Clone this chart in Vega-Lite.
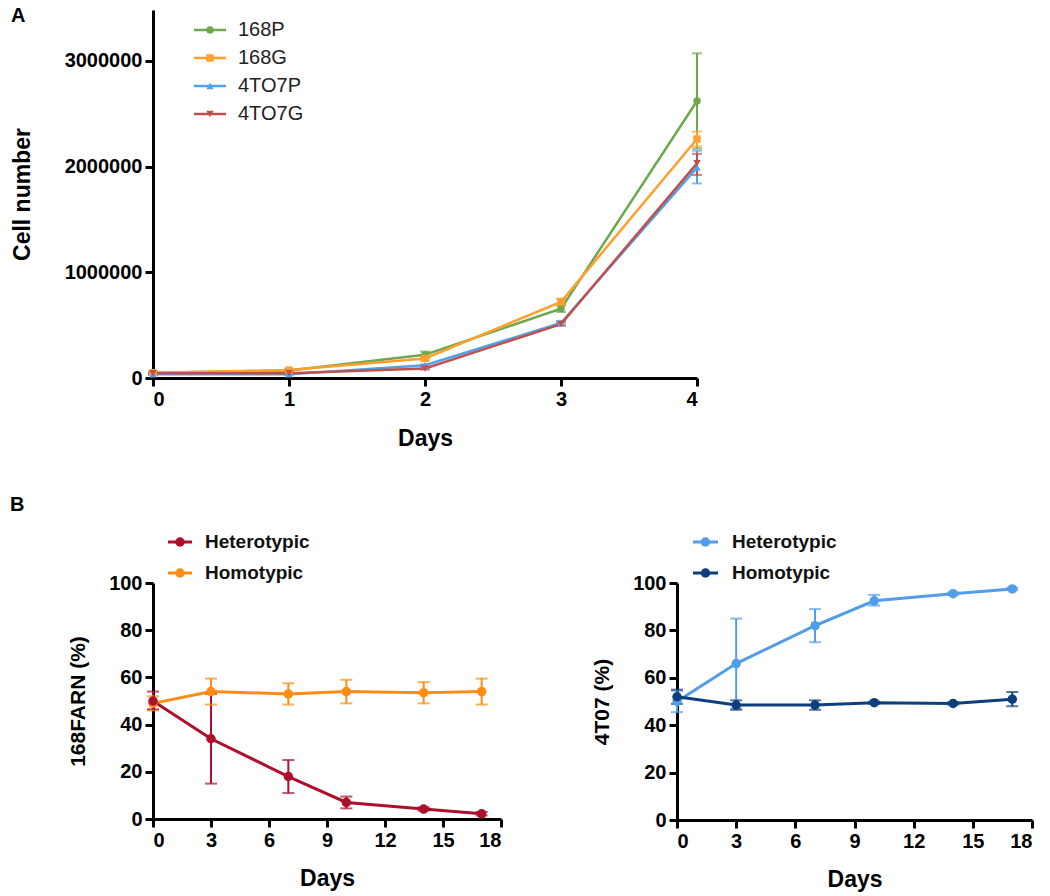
{
  "$schema": "https://vega.github.io/schema/vega-lite/v6.json",
  "background": "white",
  "padding": {"left": 10, "top": 6, "right": 5, "bottom": 5},
  "bounds": "flush",
  "spacing": 205,
  "datasets": {
    "growth": [
      {"series": "168P", "day": 0, "mean": 50000, "lo": 40000, "hi": 60000},
      {"series": "168P", "day": 1, "mean": 70000, "lo": 60000, "hi": 80000},
      {"series": "168P", "day": 2, "mean": 220000, "lo": 190000, "hi": 250000},
      {"series": "168P", "day": 3, "mean": 655000, "lo": 625000, "hi": 685000},
      {"series": "168P", "day": 4, "mean": 2620000, "lo": 2170000, "hi": 3070000},
      {"series": "168G", "day": 0, "mean": 50000, "lo": 40000, "hi": 60000},
      {"series": "168G", "day": 1, "mean": 75000, "lo": 65000, "hi": 85000},
      {"series": "168G", "day": 2, "mean": 185000, "lo": 165000, "hi": 205000},
      {"series": "168G", "day": 3, "mean": 720000, "lo": 690000, "hi": 750000},
      {"series": "168G", "day": 4, "mean": 2260000, "lo": 2190000, "hi": 2330000},
      {"series": "4TO7P", "day": 0, "mean": 35000, "lo": 30000, "hi": 40000},
      {"series": "4TO7P", "day": 1, "mean": 35000, "lo": 30000, "hi": 40000},
      {"series": "4TO7P", "day": 2, "mean": 120000, "lo": 110000, "hi": 130000},
      {"series": "4TO7P", "day": 3, "mean": 520000, "lo": 500000, "hi": 540000},
      {"series": "4TO7P", "day": 4, "mean": 1990000, "lo": 1840000, "hi": 2150000},
      {"series": "4TO7G", "day": 0, "mean": 45000, "lo": 40000, "hi": 50000},
      {"series": "4TO7G", "day": 1, "mean": 45000, "lo": 40000, "hi": 50000},
      {"series": "4TO7G", "day": 2, "mean": 90000, "lo": 80000, "hi": 100000},
      {"series": "4TO7G", "day": 3, "mean": 510000, "lo": 495000, "hi": 525000},
      {"series": "4TO7G", "day": 4, "mean": 2030000, "lo": 1920000, "hi": 2120000}
    ],
    "growthKeys": [
      {"series": "168P"}, {"series": "168G"}, {"series": "4TO7P"}, {"series": "4TO7G"}
    ],
    "farn": [
      {"group": "Homotypic", "day": 0, "mean": 49, "lo": 46, "hi": 52},
      {"group": "Homotypic", "day": 3, "mean": 54, "lo": 48.5, "hi": 59.5},
      {"group": "Homotypic", "day": 7, "mean": 53, "lo": 48.5, "hi": 57.5},
      {"group": "Homotypic", "day": 10, "mean": 54, "lo": 49, "hi": 59},
      {"group": "Homotypic", "day": 14, "mean": 53.5, "lo": 49, "hi": 58},
      {"group": "Homotypic", "day": 17, "mean": 54, "lo": 48.5, "hi": 59.5},
      {"group": "Heterotypic", "day": 0, "mean": 50, "lo": 46.5, "hi": 54},
      {"group": "Heterotypic", "day": 3, "mean": 34, "lo": 15, "hi": 53},
      {"group": "Heterotypic", "day": 7, "mean": 18, "lo": 11, "hi": 25},
      {"group": "Heterotypic", "day": 10, "mean": 7, "lo": 4.5, "hi": 9.5},
      {"group": "Heterotypic", "day": 14, "mean": 4.2, "lo": 3.5, "hi": 5},
      {"group": "Heterotypic", "day": 17, "mean": 2.2, "lo": 1.5, "hi": 3}
    ],
    "t07": [
      {"group": "Heterotypic", "day": 0, "mean": 50, "lo": 45.5, "hi": 54.5},
      {"group": "Heterotypic", "day": 3, "mean": 66, "lo": 47, "hi": 85},
      {"group": "Heterotypic", "day": 7, "mean": 82, "lo": 75, "hi": 89},
      {"group": "Heterotypic", "day": 10, "mean": 92.5, "lo": 90.5, "hi": 95},
      {"group": "Heterotypic", "day": 14, "mean": 95.5, "lo": 95, "hi": 96},
      {"group": "Heterotypic", "day": 17, "mean": 97.5, "lo": 97, "hi": 98},
      {"group": "Homotypic", "day": 0, "mean": 52, "lo": 49, "hi": 55},
      {"group": "Homotypic", "day": 3, "mean": 48.5, "lo": 46.5, "hi": 50.5},
      {"group": "Homotypic", "day": 7, "mean": 48.5, "lo": 46.5, "hi": 50.5},
      {"group": "Homotypic", "day": 10, "mean": 49.5, "lo": 49, "hi": 50},
      {"group": "Homotypic", "day": 14, "mean": 49.2, "lo": 48.7, "hi": 49.7},
      {"group": "Homotypic", "day": 17, "mean": 51, "lo": 48, "hi": 54}
    ],
    "groupKeys": [
      {"group": "Heterotypic"}, {"group": "Homotypic"}
    ]
  },
  "config": {
    "view": {"stroke": null},
    "font": "Liberation Sans",
    "axis": {
      "grid": false, "domainColor": "black", "domainWidth": 3, "tickColor": "black", "tickWidth": 3,
      "tickSize": 8, "labelFont": "Liberation Sans", "labelFontSize": 20, "labelFontWeight": "bold",
      "labelColor": "black", "labelPadding": 3, "titleFont": "Liberation Sans", "titleFontSize": 23,
      "titleFontWeight": "bold", "titleColor": "black"
    }
  },
  "resolve": {"scale": {"color": "independent"}},
  "vconcat": [
    {
      "width": 544,
      "height": 368,
      "title": {"text": "A", "anchor": "start", "frame": "group", "orient": "top", "offset": 0, "dx": -142, "dy": 32, "baseline": "alphabetic", "fontSize": 20, "fontWeight": "bold", "color": "black", "font": "Liberation Sans"},
      "resolve": {"scale": {"x": "independent", "y": "independent"}, "axis": {"x": "independent", "y": "independent"}},
      "layer": [
        {
          "data": {"name": "growth"},
          "encoding": {
            "x": {"field": "day", "type": "quantitative", "scale": {"domain": [0, 4], "nice": false, "zero": false},
                  "axis": {"values": [0, 1, 2, 3, 4], "format": "d", "title": "Days", "titlePadding": 18}}
          },
          "layer": [
            {
              "mark": {"type": "rule", "strokeWidth": 2},
              "encoding": {
                "y": {"field": "lo", "type": "quantitative", "scale": {"domain": [0, 3480000], "nice": false},
                      "axis": {"values": [0, 1000000, 2000000, 3000000], "format": "d", "title": "Cell number", "titlePadding": 30}},
                "y2": {"field": "hi"},
                "color": {"field": "series", "type": "nominal", "scale": {"domain": ["168P", "168G", "4TO7P", "4TO7G"], "range": ["#6EA84E", "#FF9F2E", "#4FA3EC", "#C0504D"]}, "legend": null}
              }
            },
            {
              "mark": {"type": "tick", "orient": "horizontal", "size": 10, "thickness": 2},
              "encoding": {
                "y": {"field": "lo", "type": "quantitative", "axis": {"title": "Cell number"}},
                "color": {"field": "series", "type": "nominal", "legend": null}
              }
            },
            {
              "mark": {"type": "tick", "orient": "horizontal", "size": 10, "thickness": 2},
              "encoding": {
                "y": {"field": "hi", "type": "quantitative", "axis": {"title": "Cell number"}},
                "color": {"field": "series", "type": "nominal", "legend": null}
              }
            },
            {
              "mark": {"type": "line", "strokeWidth": 2.5},
              "encoding": {
                "y": {"field": "mean", "type": "quantitative", "axis": {"title": "Cell number"}},
                "color": {"field": "series", "type": "nominal", "legend": null}
              }
            },
            {
              "mark": {"type": "point", "filled": true, "size": 55, "opacity": 1},
              "encoding": {
                "y": {"field": "mean", "type": "quantitative", "axis": {"title": "Cell number"}},
                "color": {"field": "series", "type": "nominal", "legend": null},
                "shape": {"condition": [
                  {"test": "datum.series === '168G'", "value": "square"},
                  {"test": "datum.series === '4TO7P'", "value": "triangle-up"},
                  {"test": "datum.series === '4TO7G'", "value": "triangle-down"}
                ], "value": "circle"}
              }
            }
          ]
        },
        {
          "data": {"name": "growthKeys"},
          "encoding": {
            "y": {"field": "series", "type": "nominal", "scale": {"type": "point", "domain": ["168P", "168G", "4TO7P", "4TO7G"], "range": [20, 104], "padding": 0}, "axis": null},
            "color": {"field": "series", "type": "nominal", "legend": null}
          },
          "layer": [
            {
              "mark": {"type": "rule", "strokeWidth": 2.5},
              "encoding": {
                "x": {"datum": 0, "type": "quantitative", "scale": {"domain": [0, 1], "range": [41, 73]}, "axis": null},
                "x2": {"datum": 1}
              }
            },
            {
              "mark": {"type": "point", "filled": true, "size": 55, "opacity": 1},
              "encoding": {
                "x": {"datum": 0.5, "type": "quantitative"},
                "shape": {"condition": [
                  {"test": "datum.series === '168G'", "value": "square"},
                  {"test": "datum.series === '4TO7P'", "value": "triangle-up"},
                  {"test": "datum.series === '4TO7G'", "value": "triangle-down"}
                ], "value": "circle"}
              }
            },
            {
              "mark": {"type": "text", "align": "left", "baseline": "middle", "dx": 12, "fontSize": 20, "font": "Liberation Sans"},
              "encoding": {
                "x": {"datum": 1, "type": "quantitative"},
                "text": {"field": "series"},
                "color": {"value": "#222"}
              }
            }
          ]
        }
      ]
    },
    {
      "bounds": "flush",
      "spacing": 176,
      "resolve": {"scale": {"color": "independent"}},
      "hconcat": [
        {
          "width": 348,
          "height": 236,
          "title": {"text": "B", "anchor": "start", "frame": "group", "orient": "top", "offset": 0, "dx": -143, "dy": -2, "baseline": "alphabetic", "fontSize": 20, "fontWeight": "bold", "color": "black", "font": "Liberation Sans"},
          "resolve": {"scale": {"x": "independent", "y": "independent"}, "axis": {"x": "independent", "y": "independent"}},
          "layer": [
            {
              "data": {"name": "farn"},
              "encoding": {
                "x": {"field": "day", "type": "quantitative", "scale": {"domain": [0, 18], "nice": false},
                      "axis": {"values": [0, 3, 6, 9, 12, 15, 18], "title": "Days", "titlePadding": 17}}
              },
              "layer": [
                {
                  "mark": {"type": "rule", "strokeWidth": 2},
                  "encoding": {
                    "y": {"field": "lo", "type": "quantitative", "scale": {"domain": [0, 100], "nice": false},
                          "axis": {"values": [0, 20, 40, 60, 80, 100], "title": "168FARN (%)", "titlePadding": 20, "titleFontSize": 21}},
                    "y2": {"field": "hi"},
                    "color": {"field": "group", "type": "nominal", "scale": {"domain": ["Heterotypic", "Homotypic"], "range": ["#AD102C", "#FF8C14"]}, "legend": null}
                  }
                },
                {
                  "mark": {"type": "tick", "orient": "horizontal", "size": 12, "thickness": 2},
                  "encoding": {
                    "y": {"field": "lo", "type": "quantitative", "axis": {"title": "168FARN (%)"}},
                    "color": {"field": "group", "type": "nominal", "legend": null}
                  }
                },
                {
                  "mark": {"type": "tick", "orient": "horizontal", "size": 12, "thickness": 2},
                  "encoding": {
                    "y": {"field": "hi", "type": "quantitative", "axis": {"title": "168FARN (%)"}},
                    "color": {"field": "group", "type": "nominal", "legend": null}
                  }
                },
                {
                  "mark": {"type": "line", "strokeWidth": 3},
                  "encoding": {
                    "y": {"field": "mean", "type": "quantitative", "axis": {"title": "168FARN (%)"}},
                    "color": {"field": "group", "type": "nominal", "legend": null}
                  }
                },
                {
                  "mark": {"type": "point", "filled": true, "size": 90, "opacity": 1, "shape": "circle"},
                  "encoding": {
                    "y": {"field": "mean", "type": "quantitative", "axis": {"title": "168FARN (%)"}},
                    "color": {"field": "group", "type": "nominal", "legend": null}
                  }
                }
              ]
            },
            {
              "data": {"name": "groupKeys"},
              "encoding": {
                "y": {"field": "group", "type": "nominal", "scale": {"type": "point", "domain": ["Heterotypic", "Homotypic"], "range": [-41, -10], "padding": 0}, "axis": null},
                "color": {"field": "group", "type": "nominal", "legend": null}
              },
              "layer": [
                {
                  "mark": {"type": "rule", "strokeWidth": 3},
                  "encoding": {
                    "x": {"datum": 0, "type": "quantitative", "scale": {"domain": [0, 1], "range": [15, 39]}, "axis": null},
                    "x2": {"datum": 1}
                  }
                },
                {
                  "mark": {"type": "point", "filled": true, "size": 90, "opacity": 1, "shape": "circle"},
                  "encoding": {"x": {"datum": 0.5, "type": "quantitative"}}
                },
                {
                  "mark": {"type": "text", "align": "left", "baseline": "middle", "dx": 13, "fontSize": 19, "fontWeight": "bold", "font": "Liberation Sans"},
                  "encoding": {
                    "x": {"datum": 1, "type": "quantitative"},
                    "text": {"field": "group"},
                    "color": {"value": "#111"}
                  }
                }
              ]
            }
          ]
        },
        {
          "width": 355,
          "height": 237,
          "resolve": {"scale": {"x": "independent", "y": "independent"}, "axis": {"x": "independent", "y": "independent"}},
          "layer": [
            {
              "data": {"name": "t07"},
              "encoding": {
                "x": {"field": "day", "type": "quantitative", "scale": {"domain": [0, 18], "nice": false},
                      "axis": {"values": [0, 3, 6, 9, 12, 15, 18], "title": "Days", "titlePadding": 17}}
              },
              "layer": [
                {
                  "mark": {"type": "rule", "strokeWidth": 2},
                  "encoding": {
                    "y": {"field": "lo", "type": "quantitative", "scale": {"domain": [0, 100], "nice": false},
                          "axis": {"values": [0, 20, 40, 60, 80, 100], "title": "4T07 (%)", "titlePadding": 20, "titleFontSize": 21}},
                    "y2": {"field": "hi"},
                    "color": {"field": "group", "type": "nominal", "scale": {"domain": ["Heterotypic", "Homotypic"], "range": ["#529DEA", "#0E3F7C"]}, "legend": null}
                  }
                },
                {
                  "mark": {"type": "tick", "orient": "horizontal", "size": 12, "thickness": 2},
                  "encoding": {
                    "y": {"field": "lo", "type": "quantitative", "axis": {"title": "4T07 (%)"}},
                    "color": {"field": "group", "type": "nominal", "legend": null}
                  }
                },
                {
                  "mark": {"type": "tick", "orient": "horizontal", "size": 12, "thickness": 2},
                  "encoding": {
                    "y": {"field": "hi", "type": "quantitative", "axis": {"title": "4T07 (%)"}},
                    "color": {"field": "group", "type": "nominal", "legend": null}
                  }
                },
                {
                  "mark": {"type": "line", "strokeWidth": 3},
                  "encoding": {
                    "y": {"field": "mean", "type": "quantitative", "axis": {"title": "4T07 (%)"}},
                    "color": {"field": "group", "type": "nominal", "legend": null}
                  }
                },
                {
                  "mark": {"type": "point", "filled": true, "size": 90, "opacity": 1, "shape": "circle"},
                  "encoding": {
                    "y": {"field": "mean", "type": "quantitative", "axis": {"title": "4T07 (%)"}},
                    "color": {"field": "group", "type": "nominal", "legend": null}
                  }
                }
              ]
            },
            {
              "data": {"name": "groupKeys"},
              "encoding": {
                "y": {"field": "group", "type": "nominal", "scale": {"type": "point", "domain": ["Heterotypic", "Homotypic"], "range": [-41, -10], "padding": 0}, "axis": null},
                "color": {"field": "group", "type": "nominal", "legend": null}
              },
              "layer": [
                {
                  "mark": {"type": "rule", "strokeWidth": 3},
                  "encoding": {
                    "x": {"datum": 0, "type": "quantitative", "scale": {"domain": [0, 1], "range": [16, 41]}, "axis": null},
                    "x2": {"datum": 1}
                  }
                },
                {
                  "mark": {"type": "point", "filled": true, "size": 90, "opacity": 1, "shape": "circle"},
                  "encoding": {"x": {"datum": 0.5, "type": "quantitative"}}
                },
                {
                  "mark": {"type": "text", "align": "left", "baseline": "middle", "dx": 14, "fontSize": 19, "fontWeight": "bold", "font": "Liberation Sans"},
                  "encoding": {
                    "x": {"datum": 1, "type": "quantitative"},
                    "text": {"field": "group"},
                    "color": {"value": "#111"}
                  }
                }
              ]
            }
          ]
        }
      ]
    }
  ]
}
